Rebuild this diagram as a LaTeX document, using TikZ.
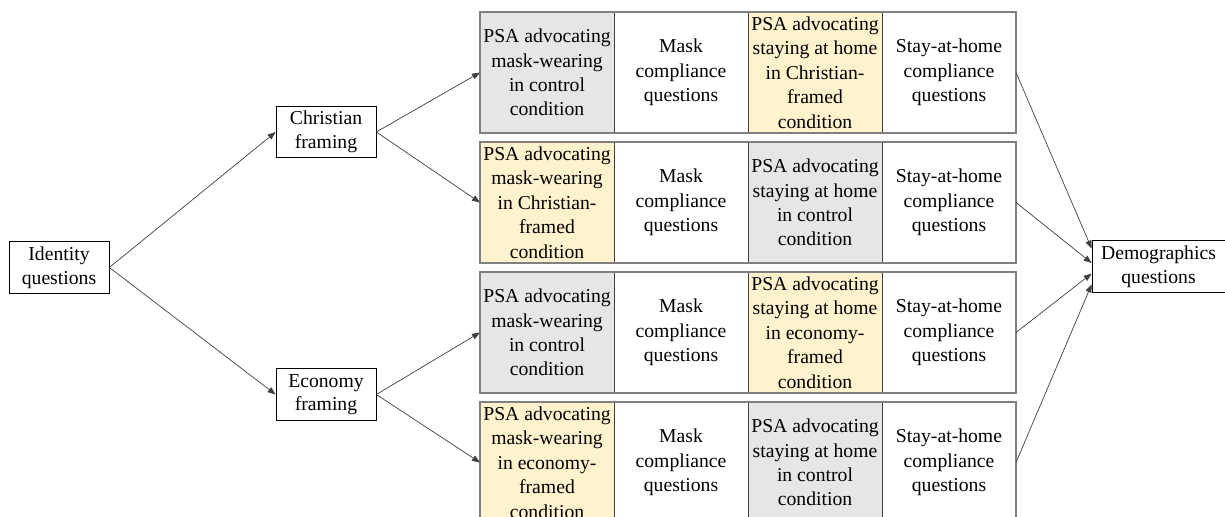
\documentclass[tikz,border=0pt]{standalone}
\usepackage{fontspec}
\setmainfont{Liberation Serif}
\usetikzlibrary{positioning,arrows.meta}
\definecolor{cellgrey}{HTML}{E7E6E6}
\definecolor{cellcream}{HTML}{FFF2CC}
\definecolor{lineink}{HTML}{404040}

\begin{document}
\begin{tikzpicture}[boxnode/.style={rectangle, draw=black, thin, minimum width=2cm, minimum height=1.03cm, align=center, inner sep=1pt, font=\fontsize{11.2}{13.4}\selectfont},
        cellnode/.style={rectangle, draw=lineink, thin, minimum width=2.68cm, minimum height=2.42cm, align=center, inner sep=0pt, outer sep=0pt, font=\fontsize{11.2}{13.9}\selectfont},
        ctrlcell/.style={cellnode, fill=cellgrey},
        framedcell/.style={cellnode, fill=cellcream},
        plaincell/.style={cellnode, fill=white},
        rowframe/.style={draw=gray, line width=0.9pt},
        link/.style={draw=lineink, thin, -{Triangle[length=1.6mm,width=1.2mm]}}]

        \path[use as bounding box, clip] (0,0) rectangle (24.5,-10.34);

        % start and framing
        \node[boxnode] (id) at (1.18,-5.35) {Identity\\questions};
        \node[boxnode] (chr) at (6.52,-2.64) {Christian\\framing};
        \node[boxnode] (eco) at (6.52,-7.89) {Economy\\framing};
        \node[boxnode, minimum width=2.66cm] (dem) at (23.17,-5.33) {Demographics\\questions};

        % row 1
        \node[ctrlcell] (r1a) at (10.94,-1.45) {PSA advocating\\mask-wearing\\in control\\condition};
        \node[plaincell] (r1b) [right=0cm of r1a] {Mask\\compliance\\questions};
        \node[framedcell] (r1c) [right=0cm of r1b] {PSA advocating\\staying at home\\in Christian-\\framed\\condition};
        \node[plaincell] (r1d) [right=0cm of r1c] {Stay-at-home\\compliance\\questions};

        % row 2
        \node[framedcell] (r2a) [below=0.18cm of r1a] {PSA advocating\\mask-wearing\\in Christian-\\framed\\condition};
        \node[plaincell] (r2b) [right=0cm of r2a] {Mask\\compliance\\questions};
        \node[ctrlcell] (r2c) [right=0cm of r2b] {PSA advocating\\staying at home\\in control\\condition};
        \node[plaincell] (r2d) [right=0cm of r2c] {Stay-at-home\\compliance\\questions};

        % row 3
        \node[ctrlcell] (r3a) [below=0.18cm of r2a] {PSA advocating\\mask-wearing\\in control\\condition};
        \node[plaincell] (r3b) [right=0cm of r3a] {Mask\\compliance\\questions};
        \node[framedcell] (r3c) [right=0cm of r3b] {PSA advocating\\staying at home\\in economy-\\framed\\condition};
        \node[plaincell] (r3d) [right=0cm of r3c] {Stay-at-home\\compliance\\questions};

        % row 4
        \node[framedcell] (r4a) [below=0.18cm of r3a] {PSA advocating\\mask-wearing\\in economy-\\framed\\condition};
        \node[plaincell] (r4b) [right=0cm of r4a] {Mask\\compliance\\questions};
        \node[ctrlcell] (r4c) [right=0cm of r4b] {PSA advocating\\staying at home\\in control\\condition};
        \node[plaincell] (r4d) [right=0cm of r4c] {Stay-at-home\\compliance\\questions};

        \foreach \r in {1,...,4}
            \draw[rowframe] (r\r a.north west) rectangle (r\r d.south east);

        % arrows
        \draw[link] (id.east) -- (chr.west);
        \draw[link] (id.east) -- (eco.west);
        \draw[link] (chr.east) -- (r1a.west);
        \draw[link] (chr.east) -- (r2a.west);
        \draw[link] (eco.east) -- (r3a.west);
        \draw[link] (eco.east) -- (r4a.west);
        \draw[link] (r1d.east) -- (dem.165);
        \draw[link] (r2d.east) -- (dem.177);
        \draw[link] (r3d.east) -- (dem.186);
        \draw[link] (r4d.east) -- (dem.195);

        \end{tikzpicture}
\end{document}
